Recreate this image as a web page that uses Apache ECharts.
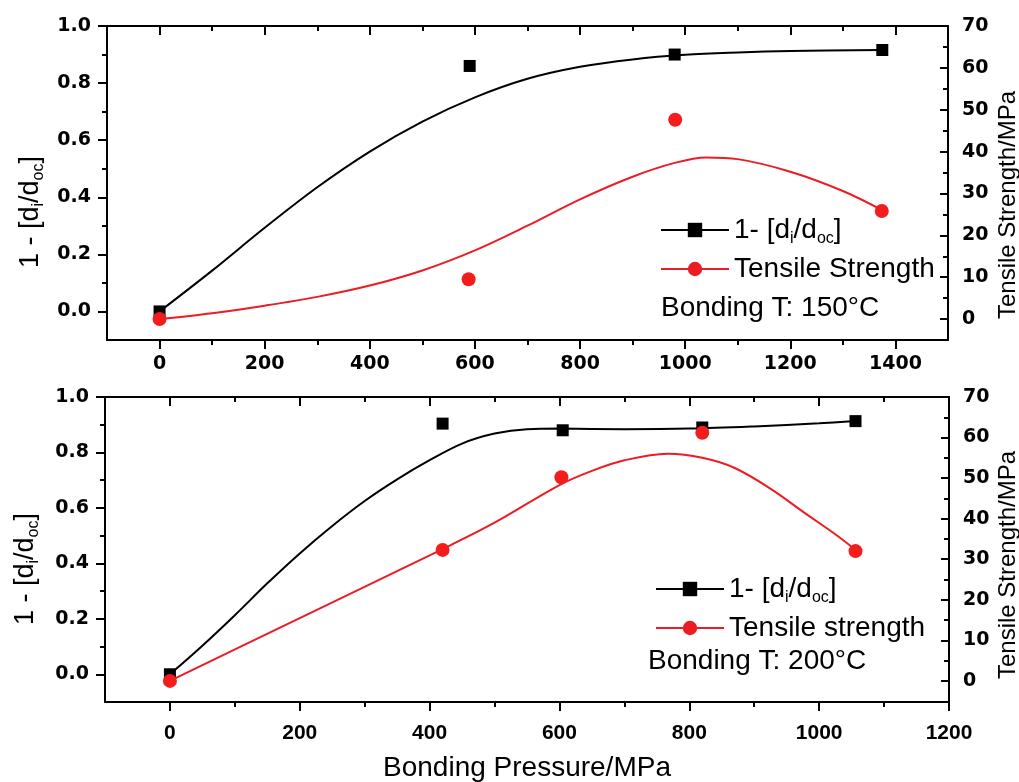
<!DOCTYPE html>
<html><head><meta charset="utf-8">
<script src="https://cdn.jsdelivr.net/npm/echarts@6/dist/echarts.min.js"></script>
<style>html,body{margin:0;padding:0;background:#fff}#c{width:1019px;height:782px}</style>
</head><body><div id="c"></div>
<script>
// ---------- Data: Bonding T 150 °C (top panel) ----------
const pressure150 = [0, 590, 980, 1375];
const ratio150 = [0.0, 0.86, 0.90, 0.916];
const tensilePressure150 = [0, 588, 981, 1374];
const tensile150 = [0, 9.5, 47.6, 25.8];
// fitted curves
const fitRatioX150 = [0, 100, 200, 300, 400, 500, 600, 700, 800, 900, 1000, 1100, 1200, 1375];
const fitRatioY150 = [0.0, 0.143, 0.293, 0.435, 0.56, 0.665, 0.75, 0.815, 0.857, 0.883, 0.899, 0.907, 0.912, 0.916];
const fitTensileX150 = [0, 100, 200, 300, 400, 500, 600, 700, 800, 900, 980, 1040, 1100, 1200, 1300, 1375];
const fitTensileY150 = [0, 1.4, 3.2, 5.3, 8.0, 11.6, 16.4, 22.3, 28.6, 34.0, 37.3, 38.6, 38.2, 35.2, 30.6, 26.0];

// ---------- Data: Bonding T 200 °C (bottom panel) ----------
const pressure200 = [0, 420, 605, 820, 1056];
const ratio200 = [0.0, 0.904, 0.88, 0.89, 0.913];
const tensilePressure200 = [0, 420, 603, 820, 1056];
const tensile200 = [0, 32.3, 50.2, 61.2, 32.0];
const fitRatioX200 = [0, 50, 100, 150, 200, 250, 300, 350, 400, 450, 500, 550, 600, 700, 800, 900, 1000, 1056];
const fitRatioY200 = [0, 0.103, 0.213, 0.328, 0.436, 0.535, 0.625, 0.703, 0.772, 0.832, 0.868, 0.884, 0.886, 0.884, 0.886, 0.894, 0.905, 0.913];
const fitTensileX200 = [0, 200, 420, 500, 600, 650, 700, 767, 820, 870, 926, 977, 1028, 1056];
const fitTensileY200 = [0, 15.5, 32.5, 39.0, 48.3, 51.8, 54.4, 56.0, 55.0, 52.5, 47.3, 41.5, 35.8, 32.3];

// ---------- Tick labels ----------
const xTicks150 = [0, 200, 400, 600, 800, 1000, 1200, 1400];
const xMinor150 = [100, 300, 500, 700, 900, 1100, 1300];
const xTicks200 = [0, 200, 400, 600, 800, 1000, 1200];
const xMinor200 = [100, 300, 500, 700, 900, 1100];
const yLeftTicks = [0.0, 0.2, 0.4, 0.6, 0.8, 1.0];
const yLeftMinor = [0.1, 0.3, 0.5, 0.7, 0.9];
const yRightTicks = [0, 10, 20, 30, 40, 50, 60, 70];
const yRightMinor = [5, 15, 25, 35, 45, 55, 65];

const NAME_RATIO = '1- [di/doc]';
const NAME_TS150 = 'Tensile Strength';
const NAME_TS200 = 'Tensile strength';

const FONT = '"Liberation Sans", Arial, sans-serif';
const TICKFONT = '"DejaVu Sans", sans-serif';
const BLACK = '#000';
const RED = '#ec1c24';
const zip = (xs, ys) => xs.map((x, i) => [x, ys[i]]);

function axis(o) {
  const base = {
    type: 'value', gridIndex: o.grid, position: o.pos, min: o.min, max: o.max,
    splitLine: { show: false },
    axisLine: { show: !!o.line, onZero: false, lineStyle: { color: BLACK, width: 2 } },
    axisTick: { show: true, inside: !!o.inside, length: o.len, customValues: o.ticks,
                lineStyle: { color: BLACK, width: 2 } },
    axisLabel: o.label ? Object.assign({ customValues: o.ticks, color: BLACK, fontFamily: TICKFONT,
                                         fontWeight: 'bold', formatter: v => String(v) }, o.label)
                       : { show: false },
    axisPointer: { show: false }
  };
  return Object.assign(base, o.extra || {});
}

const xAxes = [
  axis({ grid: 0, pos: 'bottom', min: -100, max: 1500, line: true, len: 9, ticks: xTicks150,
         label: { margin: 15, fontSize: 19 } }),
  axis({ grid: 0, pos: 'bottom', min: -100, max: 1500, len: 5, ticks: xMinor150 }),
  axis({ grid: 0, pos: 'top', min: -100, max: 1500, line: true, inside: true, len: 9, ticks: xTicks150 }),
  axis({ grid: 0, pos: 'top', min: -100, max: 1500, inside: true, len: 5, ticks: xMinor150 }),
  axis({ grid: 1, pos: 'bottom', min: -100, max: 1200, line: true, len: 9, ticks: xTicks200,
         label: { margin: 21, fontSize: 21, fontFamily: FONT } ,
         extra: { name: 'Bonding Pressure/MPa', nameLocation: 'middle', nameGap: 52,
                  nameTextStyle: { fontSize: 28, fontFamily: FONT, color: BLACK } } }),
  axis({ grid: 1, pos: 'bottom', min: -100, max: 1200, len: 5, ticks: xMinor200 }),
  axis({ grid: 1, pos: 'top', min: -100, max: 1200, line: true, inside: true, len: 9, ticks: xTicks200 }),
  axis({ grid: 1, pos: 'top', min: -100, max: 1200, inside: true, len: 5, ticks: xMinor200 })
];

const leftName = '1 - [d{sub|i}/d{sub|oc}]';
const leftNameStyle = (shift) => ({
  fontSize: 27, fontFamily: FONT, color: BLACK, lineHeight: 32, padding: [0, shift, 0, 0],
  rich: { sub: { fontSize: 16, fontFamily: FONT, color: BLACK, lineHeight: 16, verticalAlign: 'bottom' } }
});
const rightNameStyle = (shift) => ({
  fontSize: 24, fontFamily: FONT, color: BLACK, padding: [0, shift, 0, 0]
});

const yAxes = [
  axis({ grid: 0, pos: 'left', min: -0.1, max: 1.0, line: true, len: 9, ticks: yLeftTicks,
         label: { margin: 16, fontSize: 19, formatter: v => v.toFixed(1) },
         extra: { name: leftName, nameLocation: 'middle', nameGap: 60, nameRotate: 90,
                  nameTextStyle: leftNameStyle(58) } }),
  axis({ grid: 0, pos: 'left', min: -0.1, max: 1.0, len: 5, ticks: yLeftMinor }),
  axis({ grid: 0, pos: 'right', min: -5, max: 70, line: true, inside: true, len: 8, ticks: yRightTicks,
         label: { margin: 14, fontSize: 19 },
         extra: { name: 'Tensile Strength/MPa', nameLocation: 'middle', nameGap: 48, nameRotate: 90,
                  nameMoveOverlap: false, nameTextStyle: rightNameStyle(44) } }),
  axis({ grid: 0, pos: 'right', min: -5, max: 70, inside: true, len: 5, ticks: yRightMinor }),
  axis({ grid: 1, pos: 'left', min: -0.1, max: 1.0, line: true, len: 9, ticks: yLeftTicks,
         label: { margin: 16, fontSize: 19, formatter: v => v.toFixed(1) },
         extra: { name: leftName, nameLocation: 'middle', nameGap: 63, nameRotate: 90,
                  nameTextStyle: leftNameStyle(39) } }),
  axis({ grid: 1, pos: 'left', min: -0.1, max: 1.0, len: 5, ticks: yLeftMinor }),
  axis({ grid: 1, pos: 'right', min: -5.2, max: 70, line: true, inside: true, len: 8, ticks: yRightTicks,
         label: { margin: 14, fontSize: 19 },
         extra: { name: 'Tensile Strength/MPa', nameLocation: 'middle', nameGap: 47, nameRotate: 90,
                  nameMoveOverlap: false, nameTextStyle: rightNameStyle(31) } }),
  axis({ grid: 1, pos: 'right', min: -5.2, max: 70, inside: true, len: 5, ticks: yRightMinor })
];

function curve(name, xi, yi, data, color, symbol) {
  return { type: 'line', name, xAxisIndex: xi, yAxisIndex: yi, data, smooth: 0.35,
           showSymbol: false, symbol, symbolSize: 13, lineStyle: { color, width: 2 },
           itemStyle: { color }, z: 2, silent: true };
}
function points(xi, yi, data, color, symbol, size) {
  return { type: 'scatter', xAxisIndex: xi, yAxisIndex: yi, data, symbol, symbolSize: size,
           itemStyle: { color, opacity: 1 }, z: 3, silent: true };
}

const series = [
  curve(NAME_RATIO, 0, 0, zip(fitRatioX150, fitRatioY150), BLACK, 'rect'),
  points(0, 0, zip(pressure150, ratio150), BLACK, 'rect', 12),
  curve(NAME_TS150, 0, 2, zip(fitTensileX150, fitTensileY150), RED, 'circle'),
  points(0, 2, zip(tensilePressure150, tensile150), '#f41d1d', 'circle', 14),
  curve(NAME_RATIO, 4, 4, zip(fitRatioX200, fitRatioY200), BLACK, 'rect'),
  points(4, 4, zip(pressure200, ratio200), BLACK, 'rect', 12),
  curve(NAME_TS200, 4, 6, zip(fitTensileX200, fitTensileY200), RED, 'circle'),
  points(4, 6, zip(tensilePressure200, tensile200), '#f41d1d', 'circle', 14)
];

const legendText = {
  fontSize: 28, fontFamily: FONT, color: BLACK, lineHeight: 34,
  rich: { sub: { fontSize: 16, fontFamily: FONT, color: BLACK, lineHeight: 16, verticalAlign: 'bottom' } }
};
const legendFormatter = n => n === NAME_RATIO ? '1- [d{sub|i}/d{sub|oc}]' : n;

const chart = echarts.init(document.getElementById('c'), null, { renderer: 'canvas' });
chart.setOption({
  animation: false,
  backgroundColor: '#fff',
  grid: [
    { left: 107, top: 26, width: 841, height: 314, containLabel: false, outerBoundsMode: 'none' },
    { left: 105, top: 397, width: 844, height: 305, containLabel: false, outerBoundsMode: 'none' }
  ],
  xAxis: xAxes,
  yAxis: yAxes,
  legend: [
    { left: 655, top: 208, orient: 'vertical', itemWidth: 68, itemHeight: 18, itemGap: 5,
      selectedMode: false, data: [NAME_RATIO, NAME_TS150], textStyle: legendText, formatter: legendFormatter },
    { left: 650, top: 567, orient: 'vertical', itemWidth: 68, itemHeight: 18, itemGap: 5,
      selectedMode: false, data: [NAME_RATIO, NAME_TS200], textStyle: legendText, formatter: legendFormatter }
  ],
  graphic: [
    { type: 'text', left: 661, top: 294, silent: true,
      style: { text: 'Bonding T: 150°C', fontSize: 28, fontFamily: FONT, fill: BLACK } },
    { type: 'text', left: 648, top: 647, silent: true,
      style: { text: 'Bonding T: 200°C', fontSize: 28, fontFamily: FONT, fill: BLACK } }
  ],
  series
});
</script>
</body></html>
